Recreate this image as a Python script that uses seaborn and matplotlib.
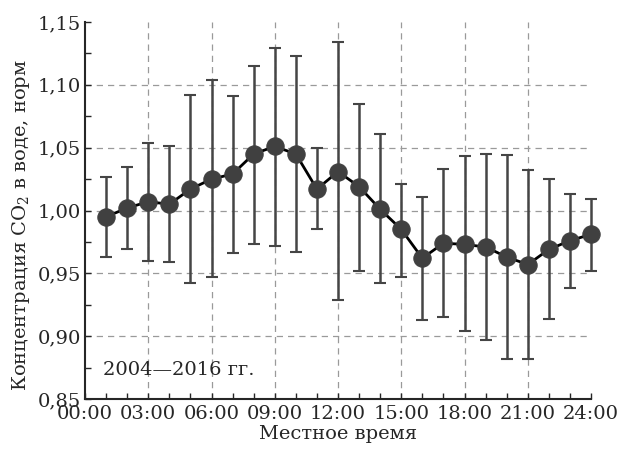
import numpy as np
import pandas as pd
import matplotlib
matplotlib.use("Agg")
import matplotlib.pyplot as plt
import seaborn as sns

hours = list(range(1, 25))
mean = [0.995, 1.002, 1.007, 1.005, 1.017, 1.025, 1.029, 1.045, 1.051, 1.045, 1.017, 1.031,
        1.019, 1.001, 0.985, 0.962, 0.974, 0.973, 0.971, 0.963, 0.957, 0.969, 0.976, 0.981]
upper = [1.027, 1.035, 1.054, 1.051, 1.092, 1.104, 1.091, 1.115, 1.129, 1.123, 1.050, 1.134,
         1.085, 1.061, 1.021, 1.011, 1.033, 1.043, 1.045, 1.044, 1.032, 1.025, 1.013, 1.009]
lower = [0.963, 0.969, 0.960, 0.959, 0.942, 0.947, 0.966, 0.973, 0.972, 0.967, 0.985, 0.929,
         0.952, 0.942, 0.947, 0.913, 0.915, 0.904, 0.897, 0.882, 0.882, 0.914, 0.938, 0.952]
xtick_pos = [0, 3, 6, 9, 12, 15, 18, 21, 24]
xtick_labels = ["00:00", "03:00", "06:00", "09:00", "12:00", "15:00", "18:00", "21:00", "24:00"]
ytick_pos = [0.85, 0.90, 0.95, 1.00, 1.05, 1.10, 1.15]
ytick_labels = ["0,85", "0,90", "0,95", "1,00", "1,05", "1,10", "1,15"]

sns.set_style("ticks")
plt.rcParams["font.family"] = ["DejaVu Serif"]
plt.rcParams["mathtext.fontset"] = "dejavuserif"

df = pd.DataFrame({"hour": hours, "mean": mean, "lo": lower, "hi": upper})

fig = plt.figure(figsize=(6.17, 4.5), dpi=100)
ax = fig.add_axes([85 / 617, 1 - 399 / 450, 506 / 617, 377 / 450])

eb = ax.errorbar(df["hour"], df["mean"],
                 yerr=[df["mean"] - df["lo"], df["hi"] - df["mean"]],
                 fmt="none", ecolor="#454545", elinewidth=1.8, capsize=4, capthick=1.5, zorder=2)
for art in eb.get_children():
    art.set_clip_on(False)
sns.lineplot(data=df, x="hour", y="mean", ax=ax, color="black", linewidth=2,
             marker="o", markersize=12.5, markerfacecolor="#404040",
             markeredgecolor="#404040", zorder=3)
for ln in ax.lines:
    ln.set_clip_on(False)

ax.set_xlim(0, 24)
ax.set_ylim(0.85, 1.15)
ax.set_xticks(xtick_pos)
ax.set_xticklabels(xtick_labels)
ax.set_xticks(range(0, 25), minor=True)
ax.set_yticks(ytick_pos)
ax.set_yticklabels(ytick_labels)
ax.set_yticks(np.arange(0.85, 1.151, 0.025), minor=True)

ax.tick_params(axis="both", which="both", direction="in", length=4, width=1, labelsize=14)
ax.tick_params(axis="x", which="major", pad=4)
ax.tick_params(axis="y", which="major", pad=3)

for x in xtick_pos[1:-1]:
    ax.axvline(x, color="#9a9a9a", linestyle=(0, (5, 4)), linewidth=0.9, zorder=0)
for y in ytick_pos[1:-1]:
    ax.axhline(y, color="#9a9a9a", linestyle=(0, (5, 4)), linewidth=0.9, zorder=0)

sns.despine(ax=ax)
for s in ["left", "bottom"]:
    ax.spines[s].set_linewidth(1.5)

ax.set_xlabel("Местное время", fontsize=14, labelpad=2)
ax.set_ylabel("Концентрация CO$_2$ в воде, норм", fontsize=14)
ax.yaxis.set_label_coords(-0.105, 0.46)

ax.text(0.036, 0.077, "2004—2016 гг.", transform=ax.transAxes, fontsize=14,
        va="center", ha="left")

fig.savefig("out.png", dpi=100)
